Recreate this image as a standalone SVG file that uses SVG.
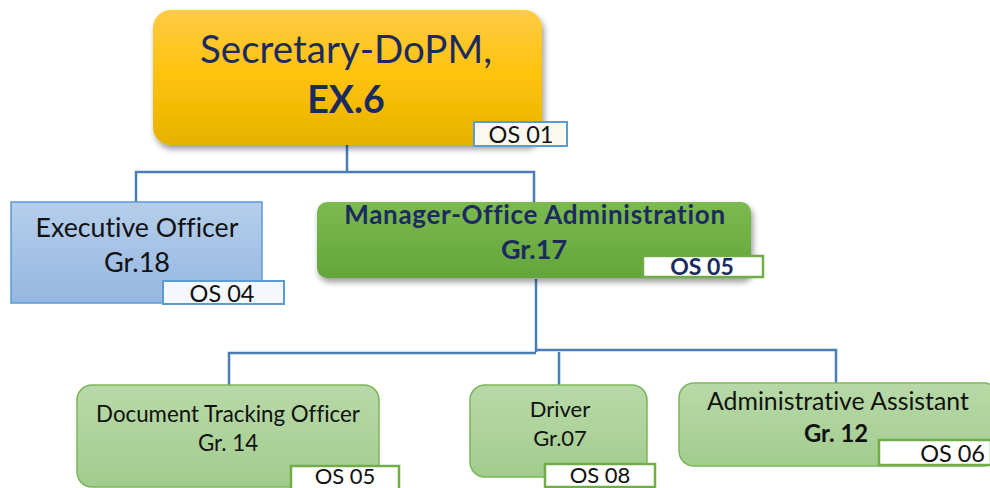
<svg xmlns="http://www.w3.org/2000/svg" width="990" height="488" viewBox="0 0 990 488">
  <defs>
    <linearGradient id="gGold" x1="0" y1="0" x2="0" y2="1">
      <stop offset="0" stop-color="#FFCB45"/>
      <stop offset="0.5" stop-color="#FFC20A"/>
      <stop offset="1" stop-color="#E5B200"/>
    </linearGradient>
    <linearGradient id="gBlue" x1="0" y1="0" x2="0" y2="1">
      <stop offset="0" stop-color="#B5CEEB"/>
      <stop offset="1" stop-color="#96B7E0"/>
    </linearGradient>
    <linearGradient id="gGreen" x1="0" y1="0" x2="0" y2="1">
      <stop offset="0" stop-color="#7BBA4F"/>
      <stop offset="1" stop-color="#63A53B"/>
    </linearGradient>
    <linearGradient id="gLight" x1="0" y1="0" x2="0" y2="1">
      <stop offset="0" stop-color="#B8D9A8"/>
      <stop offset="1" stop-color="#A2CC8E"/>
    </linearGradient>
    <filter id="shadow" x="-10%" y="-10%" width="120%" height="130%">
      <feDropShadow dx="2" dy="4" stdDeviation="3" flood-color="#000" flood-opacity="0.4"/>
    </filter>
  </defs>
  <style>
    text { font-family: Lato, "Liberation Sans", sans-serif; text-anchor: middle; font-variant-ligatures: none; font-feature-settings: "liga" 0; }
    .navy { fill: #1C2B5F; }
    .dark { fill: #111; }
    .b { font-weight: bold; }
    .link { fill: none; stroke: #4A7EB5; stroke-width: 2.5; }
    .tagB { fill: #FBF8F0; stroke: #5B9BD5; stroke-width: 2; }
    .tagG { fill: #FFFFFF; stroke: #70AD47; stroke-width: 2.5; }
    .os { font-size: 23.5px; fill: #111; }
  </style>

  <rect width="990" height="488" fill="#FFFFFF"/>

  <!-- connectors -->
  <g id="connectors">
    <path class="link" d="M347 145 V172 M136 202 V172 H534 V202"/>
    <path class="link" d="M536 279 V352 M229 386 V353 H536 M536 350 H836 V384 M559 386 V352"/>
  </g>

  <!-- Secretary -->
  <g id="secretary">
    <rect x="153" y="10" width="389" height="135" rx="18" fill="url(#gGold)" filter="url(#shadow)"/>
    <text x="346" y="63" font-size="38.5" class="navy">Secretary-DoPM,</text>
    <text x="346" y="113" font-size="37.5" class="navy b">EX.6</text>
    <rect x="474" y="122" width="93" height="24" class="tagB"/>
    <text x="521" y="143" class="os">OS 01</text>
  </g>

  <!-- Executive Officer -->
  <g id="executive-officer">
    <rect x="11" y="202" width="251" height="101" fill="url(#gBlue)" stroke="#5B9BD5" stroke-width="1.5"/>
    <text x="137" y="237" font-size="26.7" class="dark">Executive Officer</text>
    <text x="137" y="272" font-size="27" class="dark">Gr.18</text>
    <rect x="163" y="281" width="121" height="23" fill="#F4F7FC" stroke="#5B9BD5" stroke-width="2"/>
    <text x="222" y="302" class="os">OS 04</text>
  </g>

  <!-- Manager-Office Administration -->
  <g id="manager">
    <rect x="317" y="202" width="434" height="76" rx="10" fill="url(#gGreen)" filter="url(#shadow)"/>
    <text x="535" y="224" font-size="26" letter-spacing="0.7" class="navy b">Manager-Office Administration</text>
    <text x="534" y="259" font-size="27" class="navy b">Gr.17</text>
    <rect x="643" y="256" width="120" height="21" class="tagG"/>
    <text x="702" y="275" font-size="23" class="navy b">OS 05</text>
  </g>

  <!-- Document Tracking Officer -->
  <g id="document-tracking">
    <rect x="77" y="385" width="302" height="102" rx="15" fill="url(#gLight)" stroke="#7CB65B" stroke-width="1.5"/>
    <text x="228" y="422" font-size="22.3" class="dark">Document Tracking Officer</text>
    <text x="228" y="451" font-size="22.3" class="dark">Gr. 14</text>
    <rect x="291" y="466" width="108" height="24" class="tagG"/>
    <text x="345" y="484" class="os" font-size="22" style="font-size:22px">OS 05</text>
  </g>

  <!-- Driver -->
  <g id="driver">
    <rect x="470" y="385" width="177" height="92" rx="15" fill="url(#gLight)" stroke="#7CB65B" stroke-width="1.5"/>
    <text x="560" y="417" font-size="22" class="dark">Driver</text>
    <text x="560" y="446" font-size="22" class="dark">Gr.07</text>
    <rect x="545" y="464" width="110" height="23" class="tagG"/>
    <text x="600" y="483" class="os" style="font-size:22px">OS 08</text>
  </g>

  <!-- Administrative Assistant -->
  <g id="admin-assistant">
    <rect x="679" y="383" width="320" height="83" rx="15" fill="url(#gLight)" stroke="#7CB65B" stroke-width="1.5"/>
    <text x="838" y="410" font-size="24.8" class="dark">Administrative Assistant</text>
    <text x="836" y="442" font-size="23.8" class="dark b">Gr. 12</text>
    <rect x="879" y="440" width="112" height="25" class="tagG"/>
    <text x="985" y="462" class="os" style="text-anchor:end">OS 06</text>
  </g>
</svg>
